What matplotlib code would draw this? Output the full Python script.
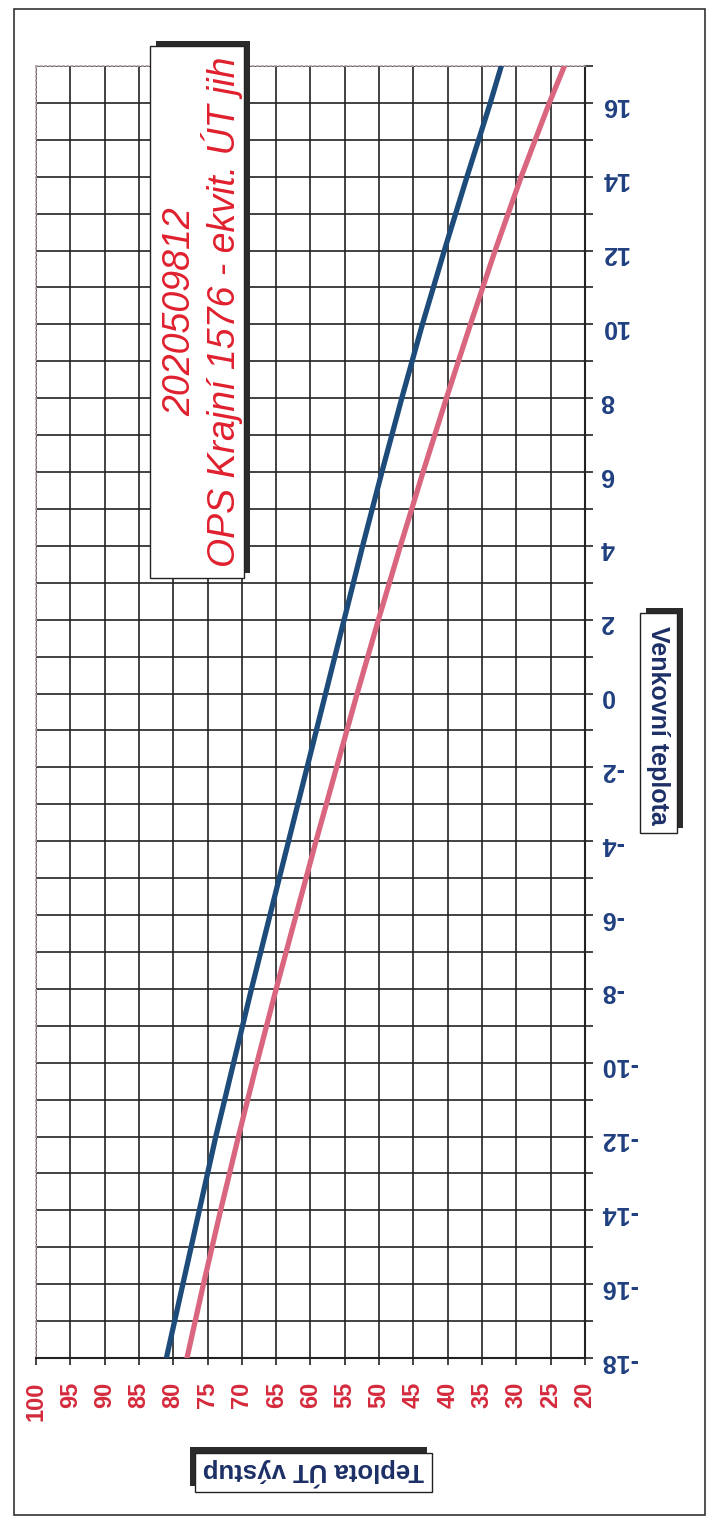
import matplotlib
matplotlib.use("Agg")
import matplotlib.pyplot as plt
from matplotlib.patches import Rectangle

# venkovni teplota (osa kategorii) a teplota vystupu UT pro obe krivky
outdoor = [-18, -16, -14, -12, -10, -8, -6, -4, -2, 0, 2, 4, 6, 8, 10, 12, 14, 16, 17]
supply_blue = [81.0, 78.6, 76.2, 73.8, 71.2, 68.6, 65.9, 63.2, 60.5, 57.8, 55.1, 52.4,
               49.6, 46.7, 43.7, 40.5, 37.2, 33.8, 32.2]
supply_pink = [78.0, 75.6, 73.1, 70.5, 67.8, 65.0, 62.1, 59.2, 56.2, 53.2, 50.1, 46.9,
               43.6, 40.2, 36.7, 33.1, 29.3, 25.2, 23.0]

supply_ticks = list(range(20, 101, 5))
outdoor_ticks = list(range(-18, 17, 2))

title_1 = "2020509812"
title_2 = "OPS Krajní 1576 - ekvit. ÚT jih"
xlabel = "Teplota ÚT výstup"
ylabel = "Venkovní teplota"

W, H = 713, 1521
plt.rcParams['font.family'] = ['Liberation Sans', 'DejaVu Sans']

fig = plt.figure(figsize=(W / 100, H / 100), dpi=100)


def fx(px):
    return px / W


def fy(py):
    return 1 - py / H


def box(x0, y0, x1, y1, dx, dy):
    # stin + bily ramecek, souradnice v pixelech (y od shora)
    fig.patches.append(Rectangle((fx(x0 + dx), fy(y1 + dy)), fx(x1 - x0), (y1 - y0) / H,
                                 transform=fig.transFigure, facecolor='#2b2b2b',
                                 edgecolor='none', zorder=1))
    fig.patches.append(Rectangle((fx(x0), fy(y1)), fx(x1 - x0), (y1 - y0) / H,
                                 transform=fig.transFigure, facecolor='white',
                                 edgecolor='#222222', linewidth=1.0, zorder=2))


# vnejsi ramecek
fig.patches.append(Rectangle((fx(14), fy(1515)), fx(705 - 14), (1515 - 9) / H,
                             transform=fig.transFigure, facecolor='none',
                             edgecolor='#333333', linewidth=1.2))

ax = fig.add_axes([fx(36), fy(1358), fx(585 - 36), (1358 - 66) / H])

ax.plot(supply_blue, outdoor, color='#1d4b7a', linewidth=3.8, zorder=3)
ax.plot(supply_pink, outdoor, color='#d9657f', linewidth=3.8, zorder=3)

ax.set_xlim(100, 20)
ax.set_ylim(-18, 17)

ax.set_xticks(supply_ticks)
ax.set_xticklabels([str(v) for v in supply_ticks], rotation=90, color='#d42a3c',
                   fontsize=17, fontweight='bold')
ax.yaxis.tick_right()
ax.set_yticks(outdoor_ticks)
ax.set_yticks(range(-18, 18), minor=True)
ax.set_yticklabels([str(v) for v in outdoor_ticks], rotation=180, color='#1f3f80',
                   fontsize=18, fontweight='bold')

ax.tick_params(axis='x', direction='out', length=5, width=1.2, pad=12, color='#222222')
ax.tick_params(axis='y', which='both', direction='out', length=6, width=1.2, pad=5,
               color='#222222')

ax.grid(True, axis='x', color='#222222', linewidth=1.2)
ax.grid(True, axis='y', which='both', color='#222222', linewidth=1.2)
ax.set_axisbelow(True)

for s in ['left', 'top']:
    ax.spines[s].set_linestyle(':')
    ax.spines[s].set_color('#b0a0a0')
    ax.spines[s].set_linewidth(1.2)
for s in ['right', 'bottom']:
    ax.spines[s].set_color('#222222')
    ax.spines[s].set_linewidth(1.5)

# titulek
box(150, 46, 244, 578, 6, -5)
fig.text(fx(180), fy(312), title_1, rotation=90, ha='center', va='center',
         color='#e0202e', fontsize=27, fontstyle='italic', zorder=3)
fig.text(fx(222), fy(312), title_2, rotation=90, ha='center', va='center',
         color='#e0202e', fontsize=27, fontstyle='italic', zorder=3)

# popisky os
box(640, 613, 677, 833, 6, -5)
fig.text(fx(658.5), fy(725), ylabel, rotation=270, ha='center', va='center',
         color='#1c2f66', fontsize=18, fontweight='bold', zorder=3)

box(195, 1453, 432, 1492, -5, -6)
fig.text(fx(313), fy(1472), xlabel, rotation=180, ha='center', va='center',
         color='#1c2f66', fontsize=18.5, fontweight='bold', zorder=3)

fig.savefig("out.png", dpi=100)
